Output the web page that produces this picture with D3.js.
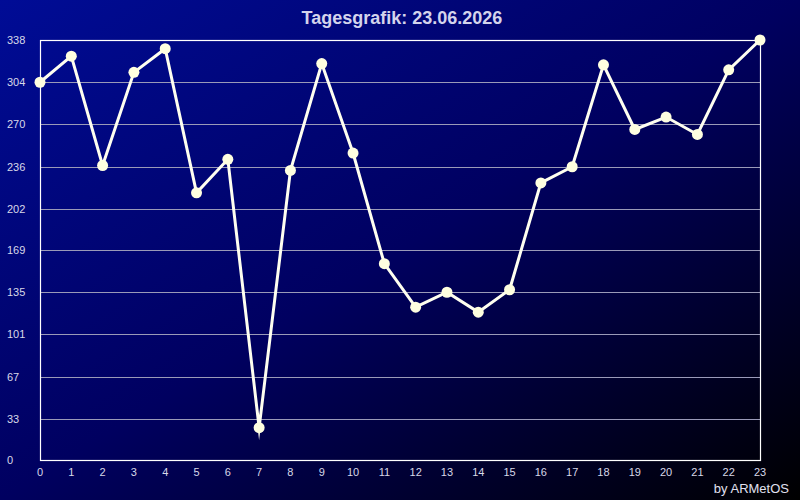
<!DOCTYPE html>
<html><head><meta charset="utf-8">
<script src="https://cdn.jsdelivr.net/npm/d3@7"></script>
<style>html,body{margin:0;padding:0;background:#000;}svg{display:block;}</style>
</head><body>
<script>
const title = "Tagesgrafik: 23.06.2026";
const credit = "by ARMetOS";
const hours = [0,1,2,3,4,5,6,7,8,9,10,11,12,13,14,15,16,17,18,19,20,21,22,23];
const values = [304,325,237,312,331,215,242,26,233,319,247,158,123,135,119,137,223,236,318,266,276,262,314,338];
const yTicks = [0,33,67,101,135,169,202,236,270,304,338];

const W=800,H=500, mL=40, mR=760, mT=40, mB=460;
const svg=d3.select("body").append("svg").attr("width",W).attr("height",H);
const defs=svg.append("defs");
const g=defs.append("linearGradient").attr("id","bg").attr("x1","0%").attr("y1","0%").attr("x2","100%").attr("y2","100%");
g.append("stop").attr("offset","0%").attr("stop-color","#000c96");
g.append("stop").attr("offset","50%").attr("stop-color","#000060");
g.append("stop").attr("offset","100%").attr("stop-color","#000000");
svg.append("rect").attr("width",W).attr("height",H).attr("fill","url(#bg)");

const x=d3.scaleLinear().domain([0,23]).range([mL,mR]);
const y=d3.scaleLinear().domain([0,338]).range([mB,mT]);

// grid
svg.append("g").selectAll("line").data(yTicks.filter(t=>t>0&&t<338)).join("line")
  .attr("x1",mL).attr("x2",mR).attr("y1",d=>Math.round(y(d))+0.5).attr("y2",d=>Math.round(y(d))+0.5)
  .attr("stroke","#9a9ab8").attr("stroke-width",1);

// frame
svg.append("rect").attr("x",mL+0.5).attr("y",mT+0.5).attr("width",mR-mL).attr("height",mB-mT)
  .attr("fill","none").attr("stroke","#ffffff").attr("stroke-width",1.2);

// y labels
svg.append("g").selectAll("text").data(yTicks).join("text")
  .attr("x",7).attr("y",d=>y(d)+4).text(d=>d)
  .attr("fill","#d8d8e8").attr("font-family","Liberation Sans, Arial, sans-serif").attr("font-size",11);

// x labels
svg.append("g").selectAll("text").data(hours).join("text")
  .attr("x",d=>x(d)).attr("y",476).attr("text-anchor","middle").text(d=>d)
  .attr("fill","#d8d8e8").attr("font-family","Liberation Sans, Arial, sans-serif").attr("font-size",11);

// title
svg.append("text").attr("x",402).attr("y",24).attr("text-anchor","middle").text(title)
  .attr("fill","#d4d4ec").attr("font-family","Liberation Sans, Arial, sans-serif").attr("font-size",18).attr("font-weight","bold");

// credit
svg.append("text").attr("x",789).attr("y",493).attr("text-anchor","end").text(credit)
  .attr("fill","#e0e0f0").attr("font-family","Liberation Sans, Arial, sans-serif").attr("font-size",13);

const data=hours.map((h,i)=>({h,v:values[i]}));
svg.append("path").datum(data)
  .attr("d",d3.line().x(d=>x(d.h)).y(d=>y(d.v)))
  .attr("fill","none").attr("stroke","#fffff0").attr("stroke-width",3)
  .attr("stroke-linejoin","miter").attr("stroke-miterlimit",10);

svg.append("g").selectAll("circle").data(data).join("circle")
  .attr("cx",d=>x(d.h)).attr("cy",d=>y(d.v)).attr("r",5.5).attr("fill","#ffffe0");
</script>
</body></html>
